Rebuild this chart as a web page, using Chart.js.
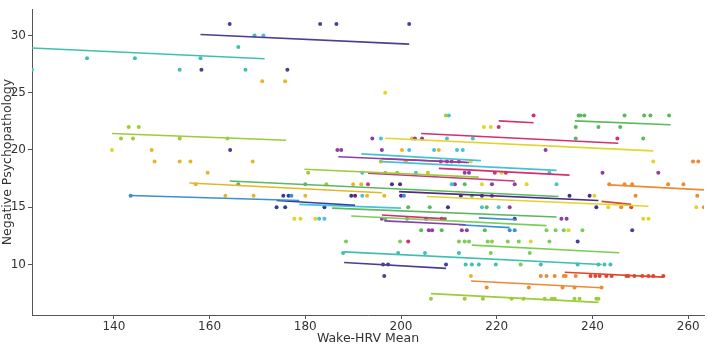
<!DOCTYPE html>
<html>
<head>
<meta charset="utf-8">
<script src="https://cdn.jsdelivr.net/npm/chart.js@4.4.1/dist/chart.umd.min.js"></script>
<style>
  html, body { margin: 0; padding: 0; background: #fff; }
  #wrap { width: 708px; height: 346px; position: relative; }
</style>
</head>
<body>
<div id="wrap"><canvas id="hrvChart"></canvas></div>
<script>
// axis ticks
const xTicks = [140, 160, 180, 200, 220, 240, 260];
const yTicks = [10, 15, 20, 25, 30];

// one colour per subject
const subjectColors = [
  "#3fbfb2", "#4a3f93", "#9dcb3a", "#d2306f", "#5cb85c", "#e1d42b", "#46c2d8", "#8c3fa8",
  "#e7b42a", "#ee8a33", "#3a8fd6", "#2d3f9c", "#e0462d", "#c23a8a", "#4d2c82", "#7ccd5a"
];

// observed scores, one row per score level
const scoreLevels = [31, 30, 29, 28, 27, 26, 25, 23, 22, 21, 20, 19, 18, 17, 16, 15, 14, 13, 12, 11, 10, 9, 8, 7];
const hrvAtLevel = [
  [164.2, 183.1, 186.5, 201.7],
  [169.4, 171.25],
  [166.0],
  [134.4, 144.4, 158.1],
  [122.9, 153.75, 158.3, 167.5, 176.25],
  [171.0, 175.8],
  [196.7],
  [209.4, 210.0, 227.7, 237.1, 237.5, 238.3, 246.7, 250.8, 252.1, 256.0],
  [143.1, 145.2, 217.3, 218.75, 220.4, 236.5, 241.25, 245.8],
  [141.5, 144.0, 153.75, 163.75, 194.0, 195.8, 202.3, 202.9, 204.4, 209.6, 215.0, 236.5, 245.2, 250.6],
  [139.6, 147.9, 164.3, 186.7, 187.5, 196.0, 200.2, 201.7, 206.9, 207.9, 211.7, 212.9, 230.2],
  [148.5, 153.75, 156.0, 169.0, 195.8, 201.0, 208.3, 209.6, 210.6, 212.1, 214.6, 252.7, 261.0, 262.1],
  [159.6, 180.6, 191.9, 196.7, 199.2, 203.1, 205.6, 213.3, 214.2, 219.6, 221.0, 221.9, 231.0, 242.1, 253.75],
  [157.1, 166.0, 180.0, 184.4, 190.0, 191.7, 193.1, 198.1, 199.8, 210.6, 211.25, 213.3, 216.9, 219.0, 223.75, 226.25, 232.5, 243.5, 246.7, 248.3, 255.8, 259.0],
  [143.5, 163.3, 169.2, 175.4, 176.5, 177.1, 180.0, 189.6, 190.4, 191.9, 192.9, 196.5, 200.0, 200.6, 212.5, 214.8, 216.9, 219.0, 235.2, 239.4, 240.4, 249.0, 261.9],
  [174.0, 175.8, 184.0, 201.5, 206.0, 209.8, 216.9, 217.9, 220.4, 222.7, 240.8, 243.3, 246.0, 248.1, 261.7, 263.3],
  [177.7, 179.0, 182.1, 182.9, 184.0, 196.0, 196.7, 201.25, 205.2, 208.5, 209.2, 223.75, 233.5, 234.6, 250.6, 251.7],
  [204.2, 205.8, 206.5, 208.5, 212.7, 213.75, 217.5, 222.7, 223.75, 230.4, 232.3, 234.0, 235.0, 237.9, 248.3],
  [188.5, 199.8, 201.5, 212.1, 213.3, 214.2, 218.1, 219.0, 222.3, 224.6, 227.1, 231.0, 236.9],
  [187.9, 199.4, 205.0, 212.1, 218.75, 226.9],
  [196.25, 197.3, 209.4, 213.5, 214.8, 216.25, 219.8, 225.0, 229.2, 236.9, 241.25, 242.5, 243.75],
  [196.5, 214.6, 229.2, 230.4, 232.1, 234.0, 234.4, 236.5, 239.6, 240.6, 241.5, 242.9, 244.0, 247.1, 247.5, 248.75, 250.4, 251.7, 252.7, 254.8],
  [217.9, 226.7, 233.75, 236.25, 241.9],
  [206.25, 213.3, 217.1, 223.1, 225.6, 230.0, 231.5, 232.1, 236.25, 237.3, 240.8, 241.25]
];
const subjectAtLevel = [
  [1, 1, 1, 1],
  [0, 6],
  [0],
  [0, 0, 0],
  [0, 0, 1, 0, 1],
  [8, 8],
  [5],
  [2, 6, 3, 4, 4, 4, 4, 4, 4, 4],
  [2, 2, 5, 5, 3, 4, 4, 4],
  [2, 2, 2, 2, 7, 6, 8, 7, 7, 6, 6, 4, 3, 4],
  [5, 8, 1, 7, 7, 7, 8, 6, 6, 8, 6, 6, 7],
  [8, 8, 8, 8, 2, 8, 13, 13, 13, 13, 5, 5, 9, 9],
  [8, 2, 6, 2, 2, 6, 8, 7, 7, 3, 5, 3, 6, 7, 7],
  [8, 4, 4, 2, 8, 8, 13, 14, 14, 6, 7, 4, 5, 7, 7, 5, 6, 9, 9, 9, 9, 9],
  [10, 8, 8, 11, 11, 10, 8, 14, 14, 6, 8, 8, 14, 10, 14, 4, 14, 7, 14, 14, 5, 9, 9],
  [11, 11, 11, 4, 4, 14, 6, 4, 6, 7, 14, 5, 9, 12, 5, 9],
  [5, 5, 5, 6, 6, 7, 4, 4, 7, 3, 4, 1, 7, 7, 5, 5],
  [4, 7, 7, 4, 7, 7, 4, 10, 10, 15, 15, 15, 5, 15, 1],
  [15, 15, 3, 15, 15, 15, 15, 2, 15, 15, 5, 15, 1],
  [0, 0, 0, 0, 15, 15],
  [1, 1, 1, 0, 0, 0, 0, 15, 0, 0, 0, 0, 0],
  [1, 8, 9, 9, 9, 9, 9, 9, 12, 12, 12, 12, 12, 12, 12, 12, 12, 12, 12, 12],
  [9, 9, 9, 9, 9],
  [2, 2, 2, 2, 2, 2, 2, 2, 2, 2, 2, 2]
];

// per-subject fitted lines
const lineSubject    = [0, 1, 2, 3, 4, 3, 5, 6, 7, 13, 6, 3, 2, 13, 8, 4, 9, 14, 5, 12, 10, 11, 6, 4, 15, 3, 7, 10, 10, 15, 0, 1, 12, 9, 2];
const lineHrvStart   = [122.9, 158.1, 139.6, 220.4, 236.3, 204.2, 196.7, 191.7, 186.9, 196.0, 196.0, 207.9, 179.8, 193.1, 155.8, 164.2, 243.5, 199.6, 205.4, 241.9, 143.5, 174.0, 178.75, 185.6, 189.6, 196.0, 196.5, 216.25, 212.1, 214.8, 188.1, 188.1, 234.2, 214.6, 206.25];
const lineHrvEnd     = [171.5, 201.7, 176.0, 227.7, 256.3, 245.4, 252.7, 216.7, 214.2, 213.75, 232.5, 235.2, 216.25, 223.75, 196.0, 232.9, 264.5, 241.25, 251.7, 248.1, 178.75, 190.4, 200.0, 232.5, 230.4, 209.4, 213.5, 224.2, 222.7, 245.6, 241.9, 209.4, 254.8, 241.9, 241.25];
const lineScoreStart = [28.90, 30.08, 21.44, 22.54, 22.54, 21.44, 21.02, 19.66, 19.41, 19.24, 18.98, 18.39, 18.31, 17.97, 17.12, 17.29, 16.95, 16.36, 15.93, 15.51, 16.02, 15.59, 15.25, 14.92, 14.24, 14.32, 13.81, 14.07, 13.47, 11.69, 11.10, 10.17, 9.32, 8.56, 7.46];
const lineScoreEnd   = [27.97, 29.24, 20.85, 22.37, 22.20, 20.59, 19.92, 19.07, 18.90, 18.90, 18.22, 17.80, 17.63, 17.29, 16.27, 15.93, 16.49, 15.59, 15.08, 15.25, 15.59, 15.17, 14.92, 14.15, 13.39, 13.98, 13.47, 13.90, 13.22, 11.02, 10.00, 9.66, 8.90, 7.97, 6.69];

const datasets = [];

lineSubject.forEach((s, i) => {
  datasets.push({
    type: "line",
    data: [{ x: lineHrvStart[i], y: lineScoreStart[i] }, { x: lineHrvEnd[i], y: lineScoreEnd[i] }],
    borderColor: subjectColors[s],
    borderWidth: 1.6,
    pointRadius: 0,
    fill: false,
    tension: 0
  });
});

// group the dots by subject so each gets its colour
const dotsBySubject = subjectColors.map(() => []);
scoreLevels.forEach((score, r) => {
  hrvAtLevel[r].forEach((hrv, k) => {
    dotsBySubject[subjectAtLevel[r][k]].push({ x: hrv, y: score });
  });
});
dotsBySubject.forEach((pts, s) => {
  if (!pts.length) return;
  datasets.push({
    type: "scatter",
    data: pts,
    backgroundColor: subjectColors[s],
    borderColor: subjectColors[s],
    borderWidth: 0,
    pointRadius: 2
  });
});

const axisColor = "#555";
const tickFont = { family: "DejaVu Sans", size: 12 };
const titleFont = { family: "DejaVu Sans", size: 12.5 };

new Chart(document.getElementById("hrvChart"), {
  data: { datasets },
  options: {
    responsive: true,
    maintainAspectRatio: false,
    animation: false,
    layout: { padding: { top: 0, right: 2, left: 0, bottom: 0 } },
    plugins: { legend: { display: false }, tooltip: { enabled: false } },
    scales: {
      x: {
        type: "linear",
        min: 122.9,
        max: 263.3,
        afterBuildTicks: scale => { scale.ticks = xTicks.map(v => ({ value: v })); },
        afterFit: scale => { scale.height = 31; },
        border: { color: axisColor, width: 1 },
        grid: { drawOnChartArea: false, drawTicks: true, tickLength: 4, color: axisColor },
        ticks: { color: "#333", font: tickFont, padding: 1, maxRotation: 0 },
        title: { display: true, text: "Wake-HRV Mean", color: "#333", font: titleFont, padding: { top: 0, bottom: 0 } }
      },
      y: {
        type: "linear",
        min: 5.59,
        max: 32.29,
        afterBuildTicks: scale => { scale.ticks = yTicks.map(v => ({ value: v })); },
        afterFit: scale => { scale.width = 32; },
        border: { color: axisColor, width: 1 },
        grid: { drawOnChartArea: false, drawTicks: true, tickLength: 4, color: axisColor },
        ticks: { color: "#333", font: tickFont, padding: 2 },
        title: { display: true, text: "Negative Psychopathology", color: "#333", font: titleFont, padding: { top: 0, bottom: 0 } }
      }
    }
  }
});
</script>
</body>
</html>
